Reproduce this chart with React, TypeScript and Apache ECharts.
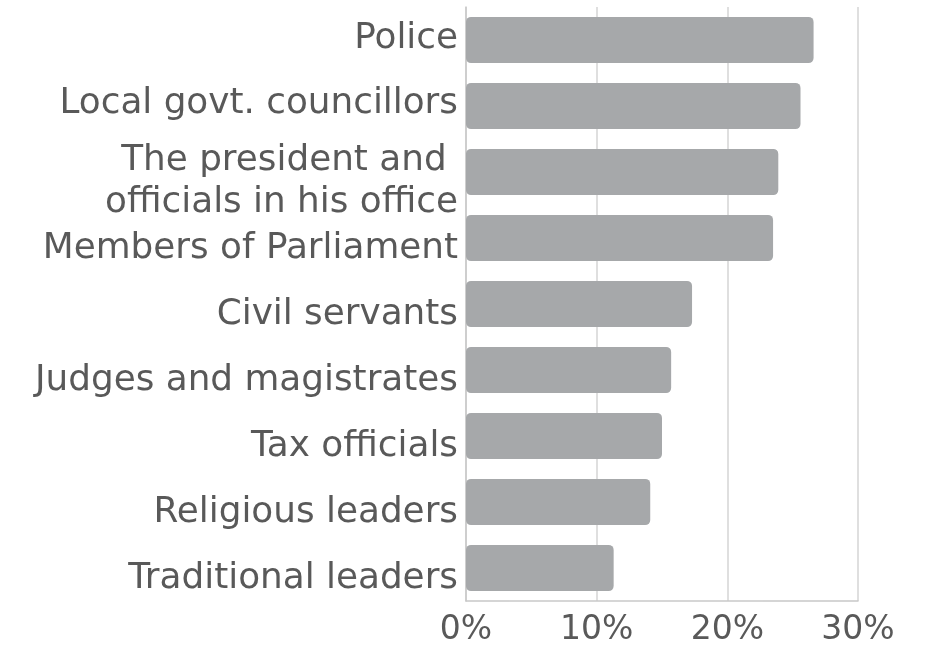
import React, { useEffect, useRef } from "react";
import * as echarts from "echarts";

const categories = [
  "Police",
  "Local govt. councillors",
  "The president and \nofficials in his office",
  "Members of Parliament",
  "Civil servants",
  "Judges and magistrates",
  "Tax officials",
  "Religious leaders",
  "Traditional leaders",
];
const values = [26.6, 25.6, 23.9, 23.5, 17.3, 15.7, 15.0, 14.1, 11.3];
const xTicks = [0, 10, 20, 30];

// vertical nudge of each category label (px, positive = down)
const labelShift = [-5, -6, 6, 7, 7, 7, 7, 7, 7];

export default function App() {
  const ref = useRef<HTMLDivElement>(null);
  useEffect(() => {
    const chart = echarts.init(ref.current!, null, { renderer: "svg" });
    const font = "'DejaVu Sans', Verdana, sans-serif";
    const rich: Record<string, any> = {};
    labelShift.forEach((d, i) => {
      rich["s" + i] = {
        color: "#595959",
        fontSize: 35.8,
        fontFamily: font,
        lineHeight: 42,
        padding: d >= 0 ? [2 * d, 0, 0, 0] : [0, 0, -2 * d, 0],
      };
    });
    chart.setOption({
      animation: false,
      grid: { left: 466, right: 67, top: 7, bottom: 45, containLabel: false },
      xAxis: {
        type: "value",
        min: xTicks[0],
        max: xTicks[xTicks.length - 1],
        interval: 10,
        axisLine: { show: true, lineStyle: { color: "#c8c8c8", width: 1.5 } },
        axisTick: { show: false },
        splitLine: { show: true, lineStyle: { color: "#d4d4d4", width: 1.5 } },
        axisLabel: {
          formatter: (v: number) => v + "%",
          color: "#595959",
          fontSize: 33,
          lineHeight: 33,
          fontFamily: font,
          margin: 10,
        },
      },
      yAxis: {
        type: "category",
        inverse: true,
        data: categories,
        axisLine: { show: true, lineStyle: { color: "#c8c8c8", width: 1.5 } },
        axisTick: { show: false },
        axisLabel: {
          color: "#595959",
          fontSize: 35.8,
          fontFamily: font,
          margin: 8,
          lineHeight: 42,
          align: "right",
          formatter: (v: string, i: number) =>
            v
              .split("\n")
              .map((line) => `{s${i}|${line}}`)
              .join("\n"),
          rich,
        },
      },
      series: [
        {
          type: "bar",
          data: values,
          barCategoryGap: "30%",
          itemStyle: { color: "#a6a8aa", borderRadius: 5 },
        },
      ],
    });
    return () => chart.dispose();
  }, []);
  return (
    <div
      ref={ref}
      style={{ position: "fixed", left: 0, top: 0, width: 925, height: 646 }}
    />
  );
}
